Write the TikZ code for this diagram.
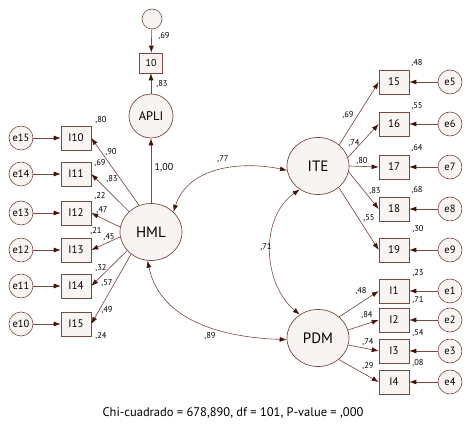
\documentclass[tikz,border=0pt]{standalone}
\usepackage{fontspec}
\setmainfont{PT Sans}
\usetikzlibrary{shapes.geometric,arrows.meta}
\definecolor{lnc}{HTML}{7A4A40}
\definecolor{arc}{HTML}{4A1208}
\definecolor{fil}{HTML}{F8F4F2}
\begin{document}
\begin{tikzpicture}[x=1pt,y=-1pt,
  lat/.style={ellipse,draw=lnc,fill=fil,line width=0.7pt,minimum width=62pt,minimum height=57pt,inner sep=0pt,font=\fontsize{15}{15}\selectfont},
  apli/.style={circle,draw=lnc,fill=fil,line width=0.7pt,minimum size=44pt,inner sep=0pt,font=\fontsize{12.5}{12.5}\selectfont},
  obs/.style={rectangle,draw=lnc,fill=fil,line width=0.6pt,minimum width=30pt,minimum height=24pt,inner sep=0pt,font=\fontsize{11}{11}\selectfont},
  err/.style={circle,draw=lnc,fill=fil,line width=0.6pt,minimum size=24pt,inner sep=0pt,font=\fontsize{10.5}{10.5}\selectfont},
  arr/.style={draw=lnc,line width=0.65pt,-{Latex[length=7pt,width=5pt,color=arc]}},
  darr/.style={draw=lnc,line width=0.6pt,{Latex[length=7pt,width=5pt,color=arc]}-{Latex[length=7pt,width=5pt,color=arc]}},
  lbl/.style={font=\fontsize{8.5}{8.5}\selectfont,inner sep=0pt}]
\useasboundingbox (0,0) rectangle (472,433);
% top
\node[err,minimum size=20pt] (u) at (152,19) {};
\node[obs,minimum width=23pt,minimum height=20pt,font=\fontsize{10}{10}\selectfont] (b10) at (151,63) {10};
\node[apli] (APLI) at (151,116) {APLI};
\node[lat] (HML) at (151,232) {HML};
\node[lat] (ITE) at (318,166) {ITE};
\node[lat] (PDM) at (318,338) {PDM};
% left boxes
\node[obs] (I10) at (76,138) {I10};
\node[obs] (I11) at (76,174) {I11};
\node[obs] (I12) at (76,213) {I12};
\node[obs] (I13) at (76,250) {I13};
\node[obs] (I14) at (76,286) {I14};
\node[obs] (I15) at (76,324) {I15};
\node[err] (e15) at (21,138) {e15};
\node[err] (e14) at (21,174) {e14};
\node[err] (e13) at (21,213) {e13};
\node[err] (e12) at (21,250) {e12};
\node[err] (e11) at (21,286) {e11};
\node[err] (e10) at (21,324) {e10};
% right boxes
\node[obs] (b15) at (394,82) {15};
\node[obs] (b16) at (394,124) {16};
\node[obs] (b17) at (394,167) {17};
\node[obs] (b18) at (394,209) {18};
\node[obs] (b19) at (394,250) {19};
\node[obs] (I1) at (394,291) {I1};
\node[obs] (I2) at (394,320) {I2};
\node[obs] (I3) at (394,351) {I3};
\node[obs] (I4) at (394,382) {I4};
\node[err] (e5) at (450,82) {e5};
\node[err] (e6) at (450,124) {e6};
\node[err] (e7) at (450,167) {e7};
\node[err] (e8) at (450,209) {e8};
\node[err] (e9) at (450,250) {e9};
\node[err] (e1) at (450,291) {e1};
\node[err] (e2) at (450,320) {e2};
\node[err] (e3) at (450,351) {e3};
\node[err] (e4) at (450,382) {e4};
% arrows top
\draw[arr] (u) -- (b10);
\draw[arr] (APLI) -- (b10);
\draw[arr] (HML) -- (APLI);
% HML loadings
\draw[arr] (HML.114) -- (I10.east);
\draw[arr] (HML.137) -- (I11.east);
\draw[arr] (HML.171) -- (I12.east);
\draw[arr] (HML.189) -- (I13.east);
\draw[arr] (HML.218) -- (I14.east);
\draw[arr] (HML.228) -- (I15.east);
\foreach \e/\b in {e15/I10,e14/I11,e13/I12,e12/I13,e11/I14,e10/I15}
  \draw[arr] (\e) -- (\b);
% ITE loadings
\draw[arr] (ITE.45) -- (b15.west);
\draw[arr] (ITE.16) -- (b16.west);
\draw[arr] (ITE.0) -- (b17.west);
\draw[arr] (ITE.-11) -- (b18.west);
\draw[arr] (ITE.-46) -- (b19.west);
\draw[arr] (PDM.45) -- (I1.west);
\draw[arr] (PDM.15) -- (I2.west);
\draw[arr] (PDM.-13) -- (I3.west);
\draw[arr] (PDM.-46) -- (I4.west);
\foreach \e/\b in {e5/b15,e6/b16,e7/b17,e8/b18,e9/b19,e1/I1,e2/I2,e3/I3,e4/I4}
  \draw[arr] (\e) -- (\b);
% covariances
\draw[darr] (HML.42) to[out=72,in=168] (ITE.188);
\draw[darr] (ITE.232) to[out=215,in=140] (PDM.128);
\draw[darr] (HML.263) to[out=-78,in=178] (PDM.183);
% labels
\node[lbl] at (164,36) {,69};
\node[lbl] at (162,84) {,83};
\node[lbl,font=\fontsize{10}{10}\selectfont] at (164,168) {1,00};
\node[lbl] at (101,120) {,80};
\node[lbl] at (111,152) {,90};
\node[lbl] at (100,163) {,69};
\node[lbl] at (112,179) {,83};
\node[lbl] at (100,196) {,22};
\node[lbl] at (102,210) {,47};
\node[lbl] at (96,231) {,21};
\node[lbl] at (109,237) {,45};
\node[lbl] at (101,268) {,32};
\node[lbl] at (107,283) {,57};
\node[lbl] at (107,310) {,49};
\node[lbl] at (101,336) {,24};
\node[lbl] at (210,336) {,89};
\node[lbl] at (223,159) {,77};
\node[lbl] at (266,247) {,71};
\node[lbl] at (417,63) {,48};
\node[lbl] at (417,106) {,55};
\node[lbl] at (417,148) {,64};
\node[lbl] at (417,190) {,68};
\node[lbl] at (418,229) {,30};
\node[lbl] at (348,115) {,69};
\node[lbl] at (354,143) {,74};
\node[lbl] at (362,161) {,80};
\node[lbl] at (375,191) {,83};
\node[lbl] at (369,218) {,55};
\node[lbl] at (418,273) {,23};
\node[lbl] at (418,300) {,71};
\node[lbl] at (418,333) {,54};
\node[lbl] at (418,363) {,08};
\node[lbl] at (361,291) {,48};
\node[lbl] at (367,315) {,84};
\node[lbl] at (368,342) {,74};
\node[lbl] at (368,366) {,29};
\node[font=\fontsize{12.5}{12.5}\selectfont,inner sep=0pt] (cap) at (233,413) {Chi-cuadrado = 678,890, df = 101, P-value = ,000};
\end{tikzpicture}
\end{document}
